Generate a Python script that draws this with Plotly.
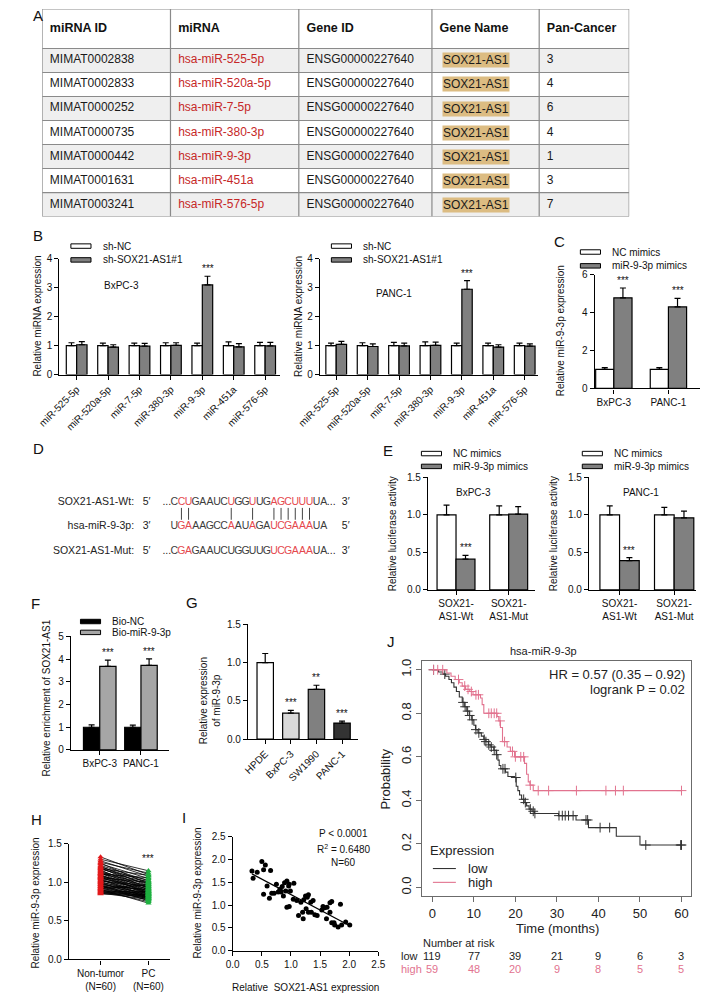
import numpy as np
import plotly.graph_objects as go

W, H = 709, 1000
FONT = "Liberation Sans, Arial, Helvetica, sans-serif"
GRAY = "#808080"
RED_T = "#c62828"
RED_D = "#e5484d"
PINK = "#e2738f"
DARK = "#333333"

# ======================= DATA =======================
# A – table
table_header = ["miRNA ID", "miRNA", "Gene ID", "Gene Name", "Pan-Cancer"]
mirna_ids = ["MIMAT0002838", "MIMAT0002833", "MIMAT0000252", "MIMAT0000735",
             "MIMAT0000442", "MIMAT0001631", "MIMAT0003241"]
mirna_names = ["hsa-miR-525-5p", "hsa-miR-520a-5p", "hsa-miR-7-5p", "hsa-miR-380-3p",
               "hsa-miR-9-3p", "hsa-miR-451a", "hsa-miR-576-5p"]
gene_ids = ["ENSG00000227640"] * 7
gene_names = ["SOX21-AS1"] * 7
pan_cancer = [3, 4, 6, 4, 1, 3, 7]

# B
b_mirnas = ["miR-525-5p", "miR-520a-5p", "miR-7-5p", "miR-380-3p", "miR-9-3p", "miR-451a", "miR-576-5p"]
b_bx_nc = [1.0, 1.0, 1.0, 1.0, 1.0, 1.0, 1.0]
b_bx_nc_err = [0.10, 0.09, 0.09, 0.10, 0.09, 0.13, 0.11]
b_bx_sh = [1.03, 0.95, 0.98, 1.01, 3.10, 0.96, 0.99]
b_bx_sh_err = [0.11, 0.08, 0.10, 0.09, 0.30, 0.11, 0.12]
b_pa_nc = [1.0, 1.0, 1.0, 1.0, 1.0, 1.0, 1.0]
b_pa_nc_err = [0.09, 0.10, 0.11, 0.13, 0.09, 0.09, 0.09]
b_pa_sh = [1.04, 0.97, 0.99, 1.01, 2.95, 0.95, 0.98]
b_pa_sh_err = [0.11, 0.09, 0.10, 0.11, 0.30, 0.08, 0.08]
b_sig = ["", "", "", "", "***", "", ""]

# C
c_cells = ["BxPC-3", "PANC-1"]
c_nc = [1.0, 1.0]
c_nc_err = [0.09, 0.10]
c_mim = [4.78, 4.30]
c_mim_err = [0.52, 0.45]

# D
d_wt = "CCUGAAUCUGGUUGAGCUUUUA"
d_mir = "UGAAAGCCAAUAGAUCGAAAUA"
d_mut = "CGAGAAUCUGGUUGUCGAAAUA"
d_wt_red = [1, 2, 8, 11, 14, 15, 16, 17, 18, 19]
d_mir_red = [1, 2, 8, 11, 14, 15, 16, 17, 18, 19]
d_mut_red = [1, 2, 14, 15, 16, 17, 18, 19]
d_pairs = [1, 2, 8, 11, 14, 15, 16, 17, 18, 19]

# E
e_groups = ["SOX21-<br>AS1-Wt", "SOX21-<br>AS1-Mut"]
e_bx_nc = [1.0, 1.0]
e_bx_nc_err = [0.13, 0.12]
e_bx_mim = [0.41, 1.01]
e_bx_mim_err = [0.05, 0.10]
e_pa_nc = [1.0, 1.0]
e_pa_nc_err = [0.12, 0.10]
e_pa_mim = [0.39, 0.96]
e_pa_mim_err = [0.04, 0.09]

# F
f_cells = ["BxPC-3", "PANC-1"]
f_nc = [1.0, 1.0]
f_nc_err = [0.10, 0.09]
f_bio = [3.68, 3.72]
f_bio_err = [0.27, 0.29]

# G
g_lines = ["HPDE", "BxPC-3", "SW1990", "PANC-1"]
g_vals = [1.0, 0.34, 0.65, 0.21]
g_err = [0.12, 0.035, 0.055, 0.025]
g_sig = ["", "***", "**", "***"]
g_colors = ["white", "#d9d9d9", "#808080", "#333333"]

# H
h_nontumor = [1.33, 1.30, 1.28, 1.26, 1.25, 1.24, 1.22, 1.21, 1.20, 1.19,
              1.18, 1.17, 1.16, 1.15, 1.14, 1.13, 1.12, 1.12, 1.11, 1.10,
              1.09, 1.08, 1.08, 1.07, 1.06, 1.05, 1.05, 1.04, 1.03, 1.02,
              1.01, 1.00, 1.00, 0.99, 0.98, 0.97, 0.97, 0.96, 0.95, 0.94,
              0.94, 0.93, 0.92, 0.91, 0.91, 0.90, 0.89, 0.89, 0.88, 0.87,
              0.87, 0.86, 0.86, 0.85, 1.02, 1.11, 0.95, 1.18, 0.92, 1.06]
h_pc = [1.10, 1.15, 1.08, 1.12, 0.98, 1.05, 1.02, 0.95, 1.00, 0.92,
        0.97, 1.03, 0.90, 0.94, 0.88, 1.01, 0.86, 0.93, 0.99, 0.85,
        0.91, 0.87, 0.96, 0.84, 0.89, 0.82, 0.94, 0.80, 0.86, 0.92,
        0.83, 0.79, 0.88, 0.81, 0.85, 0.78, 0.90, 0.76, 0.82, 0.80,
        0.87, 0.77, 0.84, 0.73, 0.81, 0.79, 0.86, 0.75, 0.83, 0.80,
        0.88, 0.78, 0.84, 0.82, 0.95, 1.06, 0.91, 1.09, 0.97, 1.00]
h_groups = ["Non-tumor<br>(N=60)", "PC<br>(N=60)"]

# I
i_sox = [0.33, 0.35, 0.42, 0.50, 0.56, 0.53, 0.65, 0.53, 0.59, 0.63,
         0.67, 0.71, 0.75, 0.81, 0.83, 0.85, 0.89, 0.93, 0.96, 0.97,
         1.05, 0.87, 0.93, 0.97, 1.04, 0.99, 1.10, 1.13, 1.17, 1.20,
         1.22, 1.25, 1.28, 1.30, 1.34, 1.38, 1.35, 1.41, 1.45, 1.21,
         1.26, 1.30, 1.53, 1.58, 1.62, 1.55, 1.67, 1.70, 1.67, 1.74,
         1.75, 1.61, 1.85, 1.81, 1.87, 1.94, 2.01, 1.70, 0.78, 0.91]
i_mir = [1.75, 1.59, 1.72, 1.96, 1.88, 1.78, 1.76, 1.24, 1.42, 1.15,
         1.26, 1.26, 1.46, 1.35, 1.29, 1.41, 1.49, 1.53, 1.42, 1.46,
         1.48, 1.20, 0.95, 0.97, 1.13, 1.31, 1.10, 0.77, 1.06, 0.84,
         1.12, 1.20, 1.17, 1.23, 1.06, 1.10, 0.84, 0.79, 0.77, 0.70,
         0.92, 0.84, 0.89, 0.94, 0.95, 0.97, 1.05, 1.08, 0.84, 0.61,
         0.56, 0.70, 1.02, 0.52, 0.56, 0.63, 0.56, 0.61, 1.29, 1.31]

# J
j_low_t = [0, 1.5, 2.5, 3.2, 4.0, 4.6, 5.2, 5.8, 6.5, 7.2, 7.7, 8.3, 8.9, 9.5, 10.0, 10.4,
           11.0, 11.8, 12.4, 12.9, 13.5, 14.1, 14.8, 15.4, 15.8, 16.1, 16.5, 17.6, 18.2,
           19.8, 20.2, 20.6, 21.0, 21.5, 22.1, 22.7, 23.3, 24.0, 24.6, 30.4, 34.6, 37.6,
           44.3, 50.0, 60]
j_low_s = [1.00, 0.99, 0.98, 0.97, 0.955, 0.94, 0.92, 0.90, 0.875, 0.85, 0.83, 0.81, 0.79,
           0.77, 0.745, 0.725, 0.71, 0.695, 0.68, 0.67, 0.655, 0.645, 0.63, 0.61, 0.585,
           0.56, 0.545, 0.53, 0.51, 0.505, 0.465, 0.445, 0.425, 0.405, 0.39, 0.375, 0.36,
           0.35, 0.34, 0.33, 0.31, 0.275, 0.235, 0.195, 0.195]
j_high_t = [0, 3.5, 4.5, 5.5, 6.5, 7.2, 8.0, 9.0, 9.8, 11.6, 12.0, 12.4, 15.6, 16.0, 16.4,
            16.9, 18.0, 18.8, 19.8, 22.2, 22.7, 23.1, 23.5, 24.3, 60]
j_high_s = [1.0, 0.985, 0.97, 0.955, 0.94, 0.925, 0.91, 0.90, 0.885, 0.87, 0.84, 0.80,
            0.785, 0.765, 0.735, 0.67, 0.645, 0.625, 0.60, 0.57, 0.52, 0.485, 0.47, 0.445, 0.445]
j_low_cens = [0.3, 3.0, 7.4, 7.9, 8.5, 9.0, 9.6, 10.5, 11.2, 12.5, 12.9, 13.6, 14.2, 14.9,
              15.5, 17.0, 17.5, 20.1, 22.0, 22.4, 23.6, 24.3, 24.7, 30.5, 31.3, 32.0, 32.8,
              33.9, 37.0, 37.4, 40.4, 42.7, 51.4, 59.8, 60.0]
j_high_cens = [0.3, 1.3, 2.5, 6.3, 7.8, 8.6, 9.4, 10.5, 11.1, 13.6, 14.2, 14.9, 15.5, 16.3,
               17.4, 19.3, 20.0, 21.3, 22.0, 23.6, 25.5, 28.0, 34.7, 41.8, 44.1, 46.0, 60.0]
j_risk_times = [0, 10, 20, 30, 40, 50, 60]
j_risk_low = [119, 77, 39, 21, 9, 6, 3]
j_risk_high = [59, 48, 20, 9, 8, 5, 5]
j_ticks_x = [0, 10, 20, 30, 40, 50, 60]
j_ticks_y = [0.0, 0.2, 0.4, 0.6, 0.8, 1.0]

# ======================= FIGURE =======================
fig = go.Figure()
lay, ann, shp = {}, [], []


def sid(n):
    return '' if n == 1 else str(n)


GP = dict(showline=True, linecolor='black', linewidth=1.3, ticks='outside', ticklen=4,
          tickwidth=1.3, tickcolor='black', showgrid=False, zeroline=False,
          tickfont=dict(size=10, color='#111', family=FONT), fixedrange=True)


def add_axes(n, xpx, ypx, xr, yr, xkw=None, ykw=None, style=GP):
    s = sid(n)
    xa = dict(style)
    xa.update(domain=[xpx[0] / W, xpx[1] / W], range=xr, anchor='y' + s)
    ya = dict(style)
    ya.update(domain=[1 - ypx[1] / H, 1 - ypx[0] / H], range=yr, anchor='x' + s)
    if xkw:
        xa.update(xkw)
    if ykw:
        ya.update(ykw)
    lay['xaxis' + s] = xa
    lay['yaxis' + s] = ya
    return 'x' + s, 'y' + s


def bars(xr, yr, xs, vals, errs, fill, width):
    fig.add_trace(go.Bar(x=list(xs), y=vals, width=width, xaxis=xr, yaxis=yr,
                         marker=dict(color=fill, line=dict(color='black', width=1.2)),
                         error_y=dict(type='data', array=errs, arrayminus=[0] * len(vals),
                                      symmetric=False, color='black', thickness=1.2, width=3),
                         showlegend=False, hoverinfo='skip'))


def stars(xr, yr, x, ytop, text, size=10):
    if text:
        ann.append(dict(x=x, y=ytop, xref=xr, yref=yr, text=text, showarrow=False,
                        yanchor='bottom', yshift=0, font=dict(size=size, color='#111', family=FONT)))


def txt(x, y, s, size=10, color='#111', xanchor='center', yanchor='middle', angle=0):
    ann.append(dict(x=x / W, y=1 - y / H, xref='paper', yref='paper', text=s, showarrow=False,
                    xanchor=xanchor, yanchor=yanchor, textangle=angle,
                    font=dict(size=size, color=color, family=FONT)))


def swatch(x0, x1, yc, fill, h=4.5):
    shp.append(dict(type='rect', xref='paper', yref='paper', x0=x0 / W, x1=x1 / W,
                    y0=1 - (yc + h / 2) / H, y1=1 - (yc - h / 2) / H, fillcolor=fill,
                    line=dict(color='black', width=1)))


def legend2(x0, y0, labels, fills, dy=14, size=10):
    for k, (lab, f) in enumerate(zip(labels, fills)):
        swatch(x0, x0 + 21, y0 + k * dy, f)
        txt(x0 + 31, y0 + k * dy, lab, size=size, xanchor='left')


# ---------------- Panel letters ----------------
for L, (lx, ly) in {"A": (8, 10), "B": (8, 232), "C": (552, 238), "D": (8, 448), "E": (374, 450),
                    "F": (6, 605), "G": (168, 604), "H": (6, 823), "I": (164, 821), "J": (378, 643)}.items():
    txt(lx, ly, L, size=15, color='#111', xanchor='left')

# ---------------- Panel A : table ----------------
col_w = [134, 134, 139, 112, 94]
hdr_h, row_h = 40, 24.3
tot_w, tot_h = sum(col_w), hdr_h + row_h * len(mirna_ids)
tx, ty = add_axes(11, (20, 20 + tot_w), (3, 3 + tot_h), [0, tot_w], [tot_h, 0],
                  style=dict(visible=False, fixedrange=True))
cum = list(np.cumsum([0] + col_w))
for r in range(len(mirna_ids)):
    y0 = hdr_h + r * row_h
    shp.append(dict(type='rect', xref=tx, yref=ty, x0=0, x1=tot_w, y0=y0, y1=y0 + row_h,
                    fillcolor='#efefef' if r % 2 == 0 else 'white', line=dict(width=0), layer='below'))
for c in cum:
    shp.append(dict(type='line', xref=tx, yref=ty, x0=c, x1=c, y0=0, y1=tot_h,
                    line=dict(color='#8a8a8a', width=1.2), layer='below'))
for yb in [0] + [hdr_h + r * row_h for r in range(len(mirna_ids) + 1)]:
    shp.append(dict(type='line', xref=tx, yref=ty, x0=0, x1=tot_w, y0=yb, y1=yb,
                    line=dict(color='#8a8a8a', width=1.2), layer='below'))
pad = 8
fig.add_trace(go.Scatter(x=[c + pad for c in cum[:5]], y=[hdr_h / 2] * 5, xaxis=tx, yaxis=ty,
                         mode='text', text=['<b>' + h + '</b>' for h in table_header],
                         textposition='middle right', cliponaxis=False, hoverinfo='skip',
                         textfont=dict(size=12.5, color='#111', family=FONT), showlegend=False))
row_y = [hdr_h + row_h * (r + 0.5) for r in range(len(mirna_ids))]
for ci, (col, colr) in enumerate([(mirna_ids, '#1a1a1a'), (mirna_names, RED_T), (gene_ids, '#1a1a1a'),
                                   (None, None), ([str(v) for v in pan_cancer], '#1a1a1a')]):
    if col is None:
        continue
    fig.add_trace(go.Scatter(x=[cum[ci] + pad] * len(col), y=row_y, xaxis=tx, yaxis=ty, mode='text',
                             text=col, textposition='middle right', cliponaxis=False, hoverinfo='skip',
                             textfont=dict(size=12, color=colr, family=FONT), showlegend=False))
for gname, yy in zip(gene_names, row_y):
    ann.append(dict(x=cum[3] + pad + 3, y=yy, xref=tx, yref=ty, text=gname, showarrow=False,
                    xanchor='left', yanchor='middle', bgcolor='#dcbc82', borderpad=0,
                    font=dict(size=12, color='#1a1a1a', family=FONT)))

# ---------------- Panel B ----------------
gx = np.arange(len(b_mirnas))
bw = 0.33
for n, (xpx, title, nc, nce, sh, she, tpos) in {
        1: ((38, 268), "BxPC-3", b_bx_nc, b_bx_nc_err, b_bx_sh, b_bx_sh_err, (103, 283)),
        2: ((310, 538), "PANC-1", b_pa_nc, b_pa_nc_err, b_pa_sh, b_pa_sh_err, (387, 291))}.items():
    start = -0.55 if n == 1 else -0.52
    span = (xpx[1] - xpx[0]) / 32.8
    xr_, yr_ = add_axes(n, xpx, (256, 373), [start, start + span], [0, 4],
                        xkw=dict(tickvals=list(gx), ticktext=b_mirnas, tickangle=-45),
                        ykw=dict(tickvals=[0, 1, 2, 3, 4]))
    bars(xr_, yr_, gx - bw / 2, nc, nce, 'white', bw)
    bars(xr_, yr_, gx + bw / 2, sh, she, GRAY, bw)
    for k, s in enumerate(b_sig):
        stars(xr_, yr_, gx[k] + bw / 2, sh[k] + she[k], s)
    txt(tpos[0], tpos[1], title, size=10)
    txt(xpx[0] - 23, 314, "Relative miRNA expression", size=10, angle=-90)
    legend2(xpx[0] + 12, 243, ["sh-NC", "sh-SOX21-AS1#1"], ['white', GRAY])

# ---------------- Panel C ----------------
cx = np.arange(len(c_cells))
cbw = 0.333
xc, yc = add_axes(3, (597, 707), (272, 387), [-0.35, 1.58], [0, 6],
                  xkw=dict(tickvals=list(cx), ticktext=c_cells), ykw=dict(tickvals=[0, 2, 4, 6]))
bars(xc, yc, cx - cbw / 2, c_nc, c_nc_err, 'white', cbw)
bars(xc, yc, cx + cbw / 2, c_mim, c_mim_err, GRAY, cbw)
for k in range(len(c_cells)):
    stars(xc, yc, cx[k] + cbw / 2, c_mim[k] + c_mim_err[k], "***")
txt(561, 329, "Relative miR-9-3p expression", size=10, angle=-90)
legend2(582, 249, ["NC mimics", "miR-9-3p mimics"], ['white', GRAY])

# ---------------- Panel D ----------------
xd, yd = add_axes(12, (0, 360), (430, 575), [0, 360], [575, 430],
                  style=dict(visible=False, fixedrange=True))
x_first, step = 158.0, 7.43
rows = [(d_wt, d_wt_red, 502, "SOX21-AS1-Wt:", "5\u2032", "3\u2032", True),
        (d_mir, d_mir_red, 527, "hsa-miR-9-3p:", "3\u2032", "5\u2032", False),
        (d_mut, d_mut_red, 552, "SOX21-AS1-Mut:", "5\u2032", "3\u2032", True)]
for seq, reds, yy, label, p_left, p_right, dots in rows:
    xs = [x_first + step * i for i in range(len(seq))]
    cols = [RED_D if i in reds else '#3c3c3c' for i in range(len(seq))]
    fig.add_trace(go.Scatter(x=xs, y=[yy] * len(seq), xaxis=xd, yaxis=yd, mode='text', text=list(seq),
                             textfont=dict(size=10.5, color=cols, family=FONT), cliponaxis=False,
                             hoverinfo='skip', showlegend=False))
    extra_x, extra_t, extra_pos = [116, 129, 337], [label, p_left, p_right], ['middle left', 'middle center', 'middle center']
    if dots:
        extra_x += [x_first - step * 1.05, xs[-1] + step * 1.05]
        extra_t += ["...", "..."]
        extra_pos += ['middle center', 'middle center']
    fig.add_trace(go.Scatter(x=extra_x, y=[yy] * len(extra_x), xaxis=xd, yaxis=yd, mode='text',
                             text=extra_t, textposition=extra_pos,
                             textfont=dict(size=10.5, color='#222', family=FONT), cliponaxis=False,
                             hoverinfo='skip', showlegend=False))
bx_, by_ = [], []
for p in d_pairs:
    bx_ += [x_first + step * p, x_first + step * p, None]
    by_ += [508, 520, None]
fig.add_trace(go.Scatter(x=bx_, y=by_, xaxis=xd, yaxis=yd, mode='lines',
                         line=dict(color='#444', width=1), hoverinfo='skip', showlegend=False))

# ---------------- Panel E ----------------
ex = np.arange(len(e_groups))
ebw = 0.36
for n, (xpx, start, step_px, title, nc, nce, mm, mme, tpos) in {
        4: ((423, 535), -0.53, 55, "BxPC-3", e_bx_nc, e_bx_nc_err, e_bx_mim, e_bx_mim_err, (470, 492)),
        5: ((591, 703), -0.56, 57, "PANC-1", e_pa_nc, e_pa_nc_err, e_pa_mim, e_pa_mim_err, (645, 492))}.items():
    span = (xpx[1] - xpx[0]) / step_px
    xe, ye = add_axes(n, xpx, (477, 591), [start, start + span], [0, 1.5],
                      xkw=dict(tickvals=list(ex), ticktext=e_groups),
                      ykw=dict(tickvals=[0, 0.5, 1.0, 1.5], tickformat='.1f'))
    bars(xe, ye, ex - ebw / 2, nc, nce, 'white', ebw)
    bars(xe, ye, ex + ebw / 2, mm, mme, GRAY, ebw)
    stars(xe, ye, ex[0] + ebw / 2, mm[0] + mme[0], "***")
    txt(tpos[0], tpos[1], title, size=10)
    txt(xpx[0] - 37, 534, "Relative luciferase activity", size=10, angle=-90)
    legend2(xpx[0] - 7, 453, ["NC mimics", "miR-9-3p mimics"], ['white', GRAY], dy=13)

# ---------------- Panel F ----------------
fx = np.arange(len(f_cells))
fbw = 0.395
xf, yf = add_axes(6, (50, 152), (638, 753), [-0.7, 1.67], [0, 5],
                  xkw=dict(tickvals=list(fx), ticktext=f_cells), ykw=dict(tickvals=[0, 1, 2, 3, 4, 5]))
bars(xf, yf, fx - fbw / 2, f_nc, f_nc_err, 'black', fbw)
bars(xf, yf, fx + fbw / 2, f_bio, f_bio_err, '#a6a6a6', fbw)
for k in range(len(f_cells)):
    stars(xf, yf, fx[k] + fbw / 2, f_bio[k] + f_bio_err[k], "***")
txt(25, 700, "Relative enrichment of SOX21-AS1", size=10, angle=-90)
legend2(60, 623, ["Bio-NC", "Bio-miR-9-3p"], ['black', '#a6a6a6'], dy=11)

# ---------------- Panel G ----------------
gxx = np.arange(len(g_lines))
gbw = 0.64
xg, yg = add_axes(7, (235, 350), (626, 742), [-0.67, 3.63], [0, 1.5],
                  xkw=dict(tickvals=list(gxx), ticktext=g_lines, tickangle=-45),
                  ykw=dict(tickvals=[0, 0.5, 1.0, 1.5], tickformat='.1f'))
bars(xg, yg, gxx, g_vals, g_err, g_colors, gbw)
for k in range(len(g_lines)):
    stars(xg, yg, gxx[k], g_vals[k] + g_err[k], g_sig[k])
txt(195, 703, "Relative expression<br>of miR-9-3p", size=10, angle=-90)

# ---------------- Panel H ----------------
xh, yh = add_axes(8, (48, 153), (848, 965), [-0.66, 1.44], [0, 1.5],
                  xkw=dict(tickvals=[0, 1], ticktext=h_groups),
                  ykw=dict(tickvals=[0, 0.5, 1.0, 1.5], tickformat='.1f'))
lx, ly = [], []
for a, b in zip(h_nontumor, h_pc):
    lx += [0, 1, None]
    ly += [a, b, None]
fig.add_trace(go.Scatter(x=lx, y=ly, xaxis=xh, yaxis=yh, mode='lines', line=dict(color='black', width=0.8),
                         hoverinfo='skip', showlegend=False))
fig.add_trace(go.Scatter(x=[0] * len(h_nontumor), y=h_nontumor, xaxis=xh, yaxis=yh, mode='markers',
                         marker=dict(symbol='triangle-up', size=5.5, color='#e31a1c'), hoverinfo='skip',
                         showlegend=False))
fig.add_trace(go.Scatter(x=[1] * len(h_pc), y=h_pc, xaxis=xh, yaxis=yh, mode='markers',
                         marker=dict(symbol='triangle-up', size=5.5, color='#1fb040'), hoverinfo='skip',
                         showlegend=False))
stars(xh, yh, 1, max(h_pc) + 0.06, "***")
txt(13, 908, "Relative miR-9-3p expression", size=10, angle=-90)

# ---------------- Panel I ----------------
xi, yi = add_axes(9, (219, 371), (841, 956), [0, 2.5], [0, 2.5],
                  xkw=dict(tickvals=[0, 0.5, 1.0, 1.5, 2.0, 2.5], tickformat='.1f'),
                  ykw=dict(tickvals=[0, 0.5, 1.0, 1.5, 2.0, 2.5], tickformat='.1f'))
fig.add_trace(go.Scatter(x=i_sox, y=i_mir, xaxis=xi, yaxis=yi, mode='markers',
                         marker=dict(size=5, color='black'), hoverinfo='skip', showlegend=False))
slope, icpt = np.polyfit(i_sox, i_mir, 1)
fx_line = [min(i_sox), max(i_sox)]
fig.add_trace(go.Scatter(x=fx_line, y=[slope * v + icpt for v in fx_line], xaxis=xi, yaxis=yi, mode='lines',
                         line=dict(color='black', width=1.2), hoverinfo='skip', showlegend=False))
txt(335, 838, "P &lt; 0.0001", size=10)
txt(335, 853, "R<sup>2</sup> = 0.6480", size=10)
txt(335, 867, "N=60", size=10)
txt(182, 898, "Relative miR-9-3p expression", size=10, angle=-90)
txt(295, 993, "Relative  SOX21-AS1 expression", size=10)

# ---------------- Panel J ----------------
JS = dict(showline=True, mirror=True, linecolor='#6b6b6b', linewidth=1, ticks='outside', ticklen=5,
          tickwidth=1, tickcolor='#6b6b6b', showgrid=False, zeroline=False,
          tickfont=dict(size=13, color='#222', family=FONT), fixedrange=True)
xj, yj = add_axes(10, (417, 698), (663, 901), [-2.4, 62.4], [-0.04, 1.04],
                  xkw=dict(tickvals=j_ticks_x),
                  ykw=dict(tickvals=j_ticks_y, tickformat='.1f', tickangle=-90), style=JS)


def surv_at(ts, ss, t):
    idx = np.searchsorted(ts, t, side='right') - 1
    return ss[idx]


for ts, ss, cens, col in [(j_low_t, j_low_s, j_low_cens, DARK), (j_high_t, j_high_s, j_high_cens, PINK)]:
    fig.add_trace(go.Scatter(x=ts, y=ss, xaxis=xj, yaxis=yj, mode='lines', line=dict(color=col, width=1.1, shape='hv'),
                             hoverinfo='skip', showlegend=False))
    fig.add_trace(go.Scatter(x=cens, y=[surv_at(ts, ss, t) for t in cens], xaxis=xj, yaxis=yj, mode='markers',
                             marker=dict(symbol='cross-thin', size=7, line=dict(color=col, width=1)),
                             hoverinfo='skip', showlegend=False))
txt(543, 653, "hsa-miR-9-3p", size=11, color='#222')
txt(693, 677, "HR = 0.57 (0.35 \u2013 0.92)", size=13, color='#222', xanchor='right')
txt(693, 692, "logrank P = 0.02", size=13, color='#222', xanchor='right')
txt(379, 782, "Probability", size=13, color='#222', angle=-90)
txt(558, 934, "Time (months)", size=13, color='#222')
txt(423, 855, "Expression", size=13, color='#222', xanchor='left')
for k, (lab, col) in enumerate([("low", DARK), ("high", PINK)]):
    yy = 873 + 14 * k
    shp.append(dict(type='line', xref='paper', yref='paper', x0=428 / W, x1=452 / W, y0=1 - yy / H, y1=1 - yy / H,
                    line=dict(color=col, width=1.1)))
    txt(463, yy, lab, size=13, color='#222', xanchor='left')
txt(416, 948, "Number at risk", size=11, color='#222', xanchor='left')
txt(393, 962, "low", size=11, color='#222', xanchor='left')
txt(393, 975, "high", size=11, color=PINK, xanchor='left')
for t, lo, hi in zip(j_risk_times, j_risk_low, j_risk_high):
    ann.append(dict(x=t, y=1 - 962 / H, xref=xj, yref='paper', text=str(lo), showarrow=False,
                    xanchor='center', yanchor='middle', font=dict(size=11, color='#222', family=FONT)))
    ann.append(dict(x=t, y=1 - 975 / H, xref=xj, yref='paper', text=str(hi), showarrow=False,
                    xanchor='center', yanchor='middle', font=dict(size=11, color=PINK, family=FONT)))

fig.update_layout(width=W, height=H, margin=dict(l=0, r=0, t=0, b=0), paper_bgcolor='white',
                  plot_bgcolor='white', barmode='overlay', showlegend=False, hovermode=False,
                  font=dict(family=FONT, color='#111'), annotations=ann, shapes=shp, **lay)
fig.write_html("out.html")
